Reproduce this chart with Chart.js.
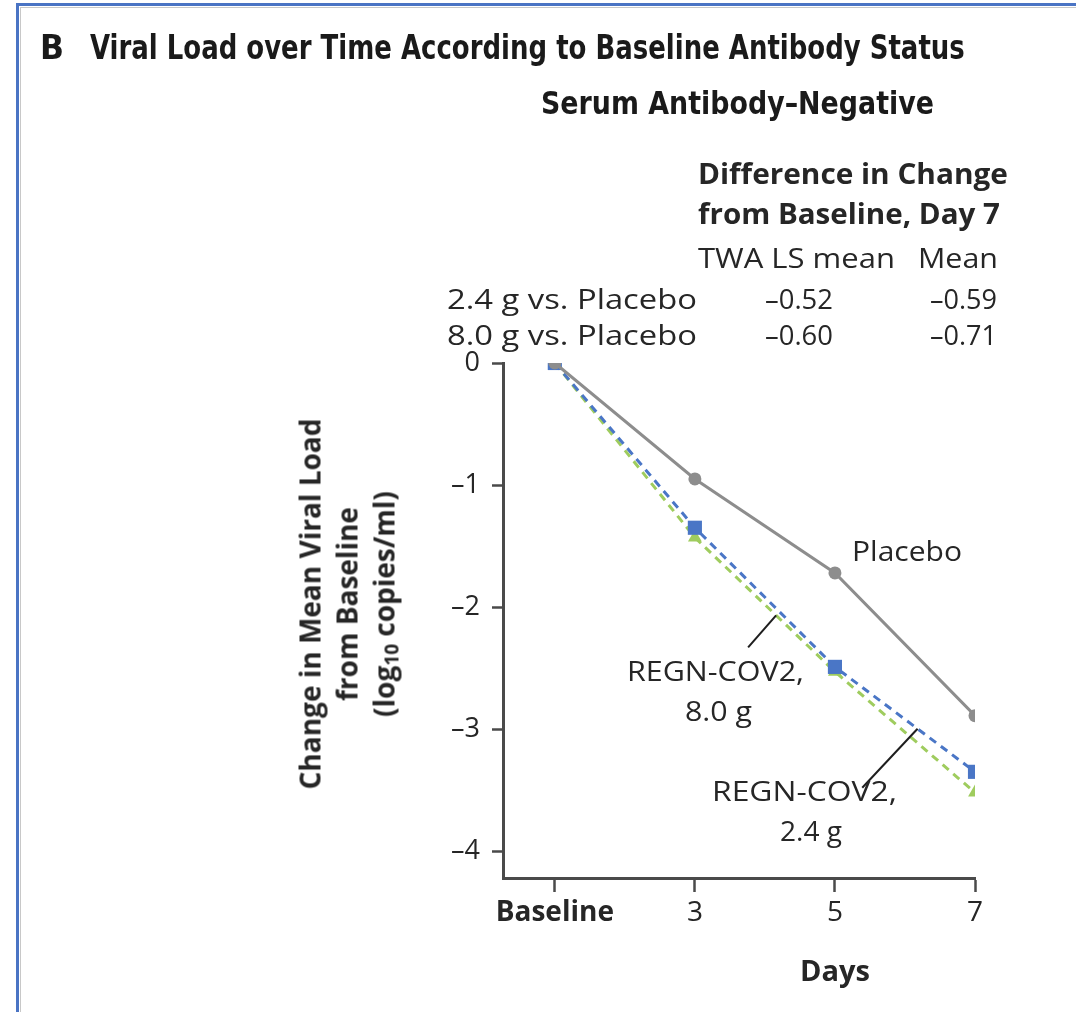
<!DOCTYPE html>
<html>
<head>
<meta charset="utf-8">
<script src="https://cdn.jsdelivr.net/npm/chart.js@4.4.1/dist/chart.umd.min.js"></script>
<style>
  html, body { margin: 0; padding: 0; background: #fff; }
  #wrap { position: relative; width: 1076px; height: 1012px; overflow: hidden; background: #fff; }
  #frame { position: absolute; left: 16px; top: 3px; width: 1100px; height: 1100px;
           border-top: 3px solid #4a74c4; border-left: 3px solid #4a74c4; }
  #inner { position: absolute; left: 20px; top: 7px; width: 1100px; height: 1100px;
           border-top: 1px solid #c8c8c8; border-left: 1px solid #c8c8c8; }
  canvas { position: absolute; left: 0; top: 0; }
  .t { position: absolute; white-space: nowrap; line-height: 1; color: #262626;
       font-family: "Open Sans", "Noto Sans", sans-serif; }
  .b { font-weight: 700; }
  .c { font-family: "Liberation Sans Narrow", "DejaVu Sans Condensed", sans-serif; font-weight: 700; color: #1a1a1a; }
  .ytitle { position: absolute; left: 347px; top: 604px; transform: translate(-50%, -50%) rotate(-90deg);
            text-align: center; font-family: "Open Sans", "Noto Sans", sans-serif; font-weight: 700;
            font-size: 28px; line-height: 37px; color: #262626; white-space: nowrap; }
  .ytitle sub { font-size: 19px; vertical-align: -4px; line-height: 0; }
</style>
</head>
<body>
<div id="wrap">
  <div id="frame"></div>
  <div id="inner"></div>
  <canvas id="chart" width="1076" height="1012"></canvas>

  <div class="t c" data-x="40" data-y="47" data-w="24" style="font-size:33px">B</div>
  <div class="t c" data-x="90" data-y="47" data-w="875" style="font-size:33px">Viral Load over Time According to Baseline Antibody Status</div>
  <div class="t c" data-x="541" data-y="103" data-w="393" style="font-size:32px">Serum Antibody–Negative</div>

  <div class="t b" data-x="698" data-y="173" data-w="310" style="font-size:28px">Difference in Change</div>
  <div class="t b" data-x="698" data-y="213" data-w="302" style="font-size:28px">from Baseline, Day 7</div>
  <div class="t" data-x="698" data-y="257" data-w="197" style="font-size:27px">TWA LS mean</div>
  <div class="t" data-x="918" data-y="257" data-w="80" style="font-size:27px">Mean</div>
  <div class="t" data-x="447" data-y="298" data-w="250" style="font-size:27px">2.4 g vs. Placebo</div>
  <div class="t" data-x="765" data-y="298" data-w="68" style="font-size:27px">–0.52</div>
  <div class="t" data-x="930" data-y="298" data-w="67" style="font-size:27px">–0.59</div>
  <div class="t" data-x="447" data-y="334" data-w="250" style="font-size:27px">8.0 g vs. Placebo</div>
  <div class="t" data-x="765" data-y="334" data-w="68" style="font-size:27px">–0.60</div>
  <div class="t" data-x="930" data-y="334" data-w="67" style="font-size:27px">–0.71</div>

  <div class="t" data-x="852" data-y="550" data-w="110" style="font-size:27px">Placebo</div>
  <div class="t" data-x="627" data-y="670" data-w="177" style="font-size:27px">REGN-COV2,</div>
  <div class="t" data-x="685" data-y="710" data-w="67" style="font-size:27px">8.0 g</div>
  <div class="t" data-x="712" data-y="790" data-w="185" style="font-size:27px">REGN-COV2,</div>
  <div class="t" data-x="780" data-y="830" data-w="62" style="font-size:27px">2.4 g</div>

  <div class="t b" data-x="800" data-y="970" data-w="70" style="font-size:28px">Days</div>

  <div class="ytitle">Change in Mean Viral Load<br>from Baseline<br>(log<sub>10</sub> copies/ml)</div>
</div>

<script>
// ---- data ----
const days = [1, 3, 5, 7];
const xTickLabels = ['Baseline', '3', '5', '7'];
const yTickValues = [-4, -3, -2, -1, 0];
const placebo = [0, -0.95, -1.72, -2.89];
const regn24 = [0, -1.35, -2.49, -3.35];
const regn80 = [0, -1.43, -2.53, -3.52];
// leader lines: label anchor (x,y) and point on series segment (series, from index, fraction)
const leaders = [
  { from: [3.76, -2.33], series: 'regn80', seg: 1, t: 0.58 },
  { from: [5.39, -3.48], series: 'regn24', seg: 2, t: 0.59 }
];

// ---- position html labels ----
document.querySelectorAll('.t').forEach(el => {
  el.style.left = el.dataset.x + 'px';
  el.style.top = el.dataset.y + 'px';
  el.style.transformOrigin = '0 50%';
  const w = el.getBoundingClientRect().width;
  const s = (+el.dataset.w) / w;
  el.style.transform = 'translateY(-50%) scaleX(' + s.toFixed(3) + ')';
});

const toPts = arr => arr.map((v, i) => ({ x: days[i], y: v }));
const seriesMap = { placebo, regn24, regn80 };

const leaderPlugin = {
  id: 'leaders',
  afterDatasetsDraw(chart) {
    const { ctx, scales: { x, y } } = chart;
    ctx.save();
    ctx.strokeStyle = '#1e1e1e';
    ctx.lineWidth = 2;
    leaders.forEach(l => {
      const s = seriesMap[l.series];
      const xv = days[l.seg] + (days[l.seg + 1] - days[l.seg]) * l.t;
      const yv = s[l.seg] + (s[l.seg + 1] - s[l.seg]) * l.t;
      ctx.beginPath();
      ctx.moveTo(x.getPixelForValue(l.from[0]), y.getPixelForValue(l.from[1]));
      ctx.lineTo(x.getPixelForValue(xv), y.getPixelForValue(yv));
      ctx.stroke();
    });
    ctx.restore();
  }
};

Chart.defaults.font.family = '"Open Sans", "Noto Sans", sans-serif';
Chart.defaults.color = '#262626';

new Chart(document.getElementById('chart'), {
  type: 'line',
  data: {
    datasets: [
      { label: 'Placebo', data: toPts(placebo), borderColor: '#8d8d8d', backgroundColor: '#8d8d8d',
        borderWidth: 3, pointStyle: 'circle', pointRadius: 6.5, pointBorderWidth: 0 },
      { label: 'REGN-COV2, 2.4 g', data: toPts(regn24), borderColor: '#4a76c6', backgroundColor: '#4a76c6',
        borderWidth: 3, borderDash: [8, 6], pointStyle: 'rect', pointRadius: 10, pointBorderWidth: 0 },
      { label: 'REGN-COV2, 8.0 g', data: toPts(regn80), borderColor: '#9fcc5e', backgroundColor: '#9fcc5e',
        borderWidth: 3, borderDash: [8, 6], pointStyle: 'triangle', pointRadius: 8, pointBorderWidth: 0 }
    ]
  },
  options: {
    responsive: false,
    animation: false,
    devicePixelRatio: 1,
    layout: { padding: { left: 420, right: 101, top: 363, bottom: 50 } },
    plugins: { legend: { display: false }, tooltip: { enabled: false } },
    elements: { line: { tension: 0 } },
    scales: {
      x: {
        type: 'linear', min: 0.26, max: 7,
        afterBuildTicks: s => { s.ticks = days.map(v => ({ value: v })); },
        afterFit: s => { s.height = 84; },
        border: { display: true, color: '#4a4a4a', width: 3 },
        grid: { drawOnChartArea: false, drawTicks: true, tickLength: 14, tickWidth: 2.5, tickColor: '#4a4a4a' },
        ticks: {
          padding: 4, color: '#262626',
          font: c => ({ size: 28, weight: (c.tick && c.tick.value === 1) ? 'bold' : 'normal' }),
          callback: v => xTickLabels[days.indexOf(v)]
        }
      },
      y: {
        type: 'linear', min: -4.22, max: 0,
        afterBuildTicks: s => { s.ticks = yTickValues.map(v => ({ value: v })); },
        afterFit: s => { s.width = 83; },
        border: { display: true, color: '#4a4a4a', width: 3 },
        grid: { drawOnChartArea: false, drawTicks: true, tickLength: 11, tickWidth: 2.5, tickColor: '#4a4a4a' },
        ticks: {
          padding: 12, color: '#262626', font: { size: 27 },
          callback: v => v === 0 ? '0' : '–' + Math.abs(v)
        }
      }
    }
  },
  plugins: [leaderPlugin]
});
</script>
</body>
</html>
